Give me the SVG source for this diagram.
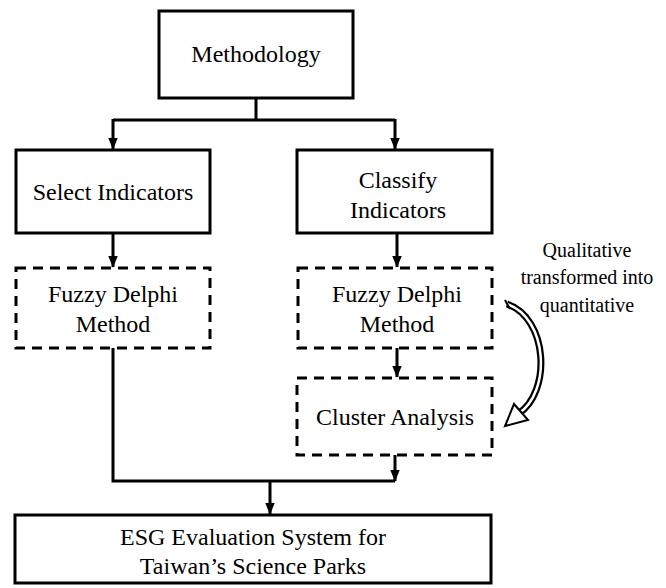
<svg xmlns="http://www.w3.org/2000/svg" width="666" height="588" viewBox="0 0 666 588">
<defs>
<marker id="ah" markerWidth="12" markerHeight="15" viewBox="0 0 15 12" refX="14" refY="6" orient="auto" markerUnits="userSpaceOnUse">
<path d="M0,0 L15,6 L0,12 Z" fill="#000"/>
</marker>
</defs>
<style>
.box{fill:#fff;stroke:#000;stroke-width:3}
.dbox{fill:#fff;stroke:#000;stroke-width:3;stroke-dasharray:10,7}
.ln{fill:none;stroke:#000;stroke-width:3}
.t{font-family:'Liberation Serif','Times New Roman',Times,serif;font-size:24px;fill:#000;text-anchor:middle}
.note{font-size:20px}
</style>
<rect width="666" height="588" fill="#fff"/>
<g id="connectors">
<path class="ln" d="M256,98 V120 M113,120 H395"/>
<path class="ln" d="M113,119 V149" marker-end="url(#ah)"/>
<path class="ln" d="M395,119 V149" marker-end="url(#ah)"/>
<path class="ln" d="M113,233 V267" marker-end="url(#ah)"/>
<path class="ln" d="M397,233 V267" marker-end="url(#ah)"/>
<path class="ln" d="M397,348 V377" marker-end="url(#ah)"/>
<path class="ln" d="M113,348 V481 H395"/>
<path class="ln" d="M395,455 V481" marker-end="url(#ah)"/>
<path class="ln" d="M270,481 V514" marker-end="url(#ah)"/>
</g>
<g id="methodology"><rect class="box" x="159" y="11" width="194" height="87"/><text class="t" x="256" y="62">Methodology</text></g>
<g id="select"><rect class="box" x="16" y="150" width="194" height="83"/><text class="t" x="113" y="200">Select Indicators</text></g>
<g id="classify"><rect class="box" x="297" y="150" width="195" height="83"/><text class="t" x="398" y="188">Classify</text><text class="t" x="398" y="218">Indicators</text></g>
<g id="fdm-left"><rect class="dbox" x="16" y="268" width="194" height="80"/><text class="t" x="113" y="302">Fuzzy Delphi</text><text class="t" x="113" y="332">Method</text></g>
<g id="fdm-right"><rect class="dbox" x="298" y="268" width="194" height="80"/><text class="t" x="397" y="302">Fuzzy Delphi</text><text class="t" x="397" y="332">Method</text></g>
<g id="cluster"><rect class="dbox" x="297" y="378" width="195" height="77"/><text class="t" x="395" y="425">Cluster Analysis</text></g>
<g id="esg"><rect class="box" x="15" y="515" width="476" height="68"/><text class="t" x="253" y="545">ESG Evaluation System for</text><text class="t" x="253" y="574">Taiwan’s Science Parks</text></g>
<g id="note">
<text class="t note" x="587" y="257">Qualitative</text>
<text class="t note" x="587" y="284">transformed into</text>
<text class="t note" x="587" y="312">quantitative</text>
<path d="M507,304 C548,318 552,392 518,414" fill="none" stroke="#000" stroke-width="7"/>
<path d="M507,304 C548,318 552,392 518,414" fill="none" stroke="#fff" stroke-width="2.5"/>
<path d="M514,404 L505,426 L528,420 Z" fill="#fff" stroke="#000" stroke-width="2"/>
<path d="M505,300 L510,309" stroke="#000" stroke-width="2"/>
</g>
</svg>
